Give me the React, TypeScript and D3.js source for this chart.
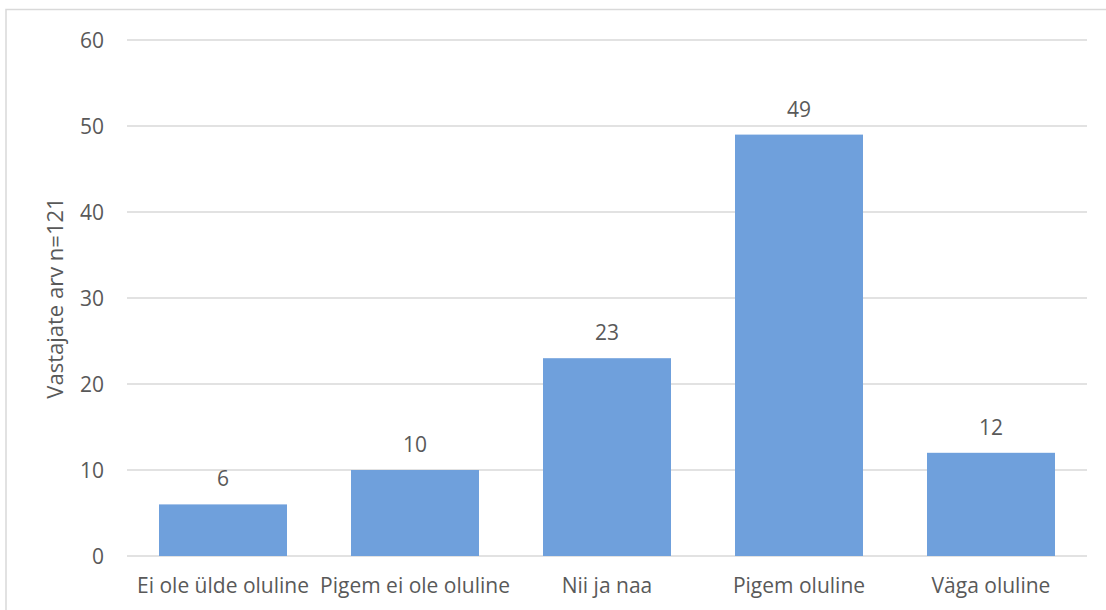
import React from "react";
import * as d3 from "d3";

const categories = [
  "Ei ole ülde oluline",
  "Pigem ei ole oluline",
  "Nii ja naa",
  "Pigem oluline",
  "Väga oluline",
];
const counts = [6, 10, 23, 49, 12];
const yTicks = [0, 10, 20, 30, 40, 50, 60];
const yTitle = "Vastajate arv n=121";

const W = 1106;
const H = 610;
const plot = { left: 127, right: 1087, top: 40, bottom: 556 };
const FONT = "'Open Sans', 'Liberation Sans', sans-serif";
const TEXT = "#595959";
const GRID = "#d9d9d9";
const BAR = "#6FA0DC";

export default function App() {
  const x = d3
    .scaleBand<string>()
    .domain(categories)
    .range([plot.left, plot.right])
    .paddingInner(1 / 3)
    .paddingOuter(1 / 6);
  const y = d3.scaleLinear().domain([0, 60]).range([plot.bottom, plot.top]);

  return (
    <svg
      width={W}
      height={H}
      style={{ position: "absolute", left: 0, top: 0, background: "#fff" }}
      fontFamily={FONT}
    >
      {/* chart frame */}
      <rect x={6} y={9.5} width={W + 20} height={H + 20} fill="#fff" stroke={GRID} strokeWidth={1.5} />

      {/* gridlines and tick labels */}
      {yTicks.map((t) => (
        <g key={t}>
          <line x1={plot.left} x2={plot.right} y1={y(t)} y2={y(t)} stroke={GRID} strokeWidth={1.5} />
          <text x={104} y={y(t) + 7.5} textAnchor="end" fontSize={21} fill={TEXT}>
            {t}
          </text>
        </g>
      ))}

      {/* bars */}
      {categories.map((c, i) => (
        <rect
          key={c}
          x={x(c)!}
          y={y(counts[i])}
          width={x.bandwidth()}
          height={y(0) - y(counts[i])}
          fill={BAR}
        />
      ))}

      {/* value labels */}
      {categories.map((c, i) => (
        <text
          key={c + "-v"}
          x={x(c)! + x.bandwidth() / 2}
          y={y(counts[i]) - 18}
          textAnchor="middle"
          fontSize={21}
          fill={TEXT}
        >
          {counts[i]}
        </text>
      ))}

      {/* category labels */}
      {categories.map((c) => (
        <text
          key={c + "-c"}
          x={x(c)! + x.bandwidth() / 2}
          y={593}
          textAnchor="middle"
          fontSize={21}
          fill={TEXT}
        >
          {c}
        </text>
      ))}

      {/* y axis title */}
      <text
        transform={`translate(63, ${(plot.top + plot.bottom) / 2}) rotate(-90)`}
        textAnchor="middle"
        fontSize={22}
        fill={TEXT}
      >
        {yTitle}
      </text>
    </svg>
  );
}
